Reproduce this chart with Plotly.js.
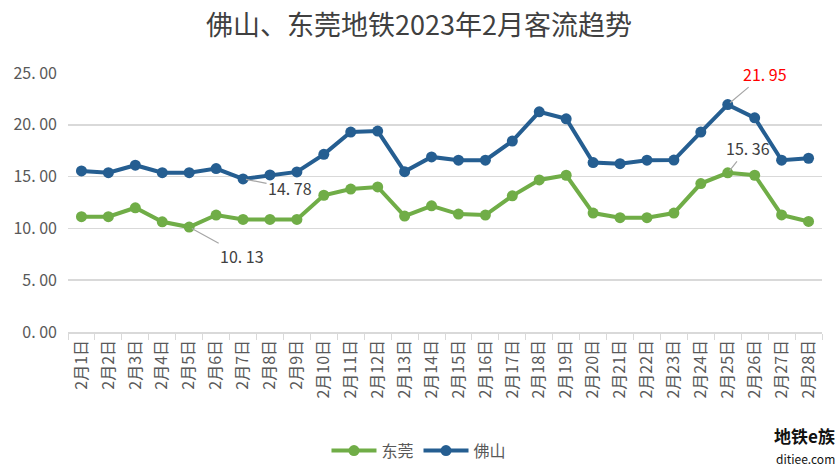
<!DOCTYPE html>
<html><head><meta charset="utf-8">
<script src="https://cdn.plot.ly/plotly-3.0.1.min.js"></script>
<style>html,body{margin:0;padding:0;background:#fff;}#chart{width:838px;height:470px;}</style>
</head><body><div id="chart"></div>
<script>
const days = ["2月1日","2月2日","2月3日","2月4日","2月5日","2月6日","2月7日","2月8日","2月9日","2月10日","2月11日","2月12日","2月13日","2月14日","2月15日","2月16日","2月17日","2月18日","2月19日","2月20日","2月21日","2月22日","2月23日","2月24日","2月25日","2月26日","2月27日","2月28日"];
const dongguan = [11.13,11.13,11.99,10.64,10.13,11.29,10.87,10.87,10.87,13.2,13.8,14.0,11.19,12.18,11.38,11.29,13.14,14.68,15.13,11.48,11.03,11.03,11.48,14.33,15.36,15.13,11.3,10.67];
const foshan = [15.55,15.38,16.1,15.38,15.38,15.77,14.78,15.16,15.45,17.15,19.3,19.4,15.48,16.9,16.58,16.58,18.43,21.25,20.58,16.35,16.25,16.58,16.6,19.3,21.95,20.67,16.58,16.77];
const yTickVals = [0,5,10,15,20,25];
const yTickText = ["0. 00","5. 00","10. 00","15. 00","20. 00","25. 00"];
const titleText = "佛山、东莞地铁2023年2月客流趋势";

const font = '"Noto Sans CJK SC", "Noto Sans", sans-serif';
const traces = [
  {x: days, y: dongguan, name: "东莞", type: "scatter", mode: "lines+markers",
   line: {color: "#70AD47", width: 4}, marker: {color: "#70AD47", size: 11}},
  {x: days, y: foshan, name: "佛山", type: "scatter", mode: "lines+markers",
   line: {color: "#255E91", width: 4}, marker: {color: "#255E91", size: 11}}
];
const ann = (x, y, text, ax, ay, color) => ({x, y, xref: "x", yref: "y", text, showarrow: true,
  arrowhead: 0, arrowwidth: 1.2, arrowcolor: "#a6a6a6", ax, ay, standoff: 3,
  font: {family: font, size: 16, color}});
const layout = {
  width: 838, height: 470,
  margin: {l: 68, r: 16, t: 73, b: 138, autoexpand: false},
  paper_bgcolor: "#fff", plot_bgcolor: "#fff",
  title: {text: titleText, x: 0.5, xanchor: "center", y: 0.945, yanchor: "middle",
    font: {family: font, size: 27, color: "#404040"}},
  showlegend: true,
  legend: {orientation: "h", x: 0.4655, xanchor: "center", y: -0.458, yanchor: "middle",
    font: {family: font, size: 16, color: "#595959"}, itemwidth: 45, tracegroupgap: 0},
  xaxis: {type: "category", range: [-0.5, 27.5], autorange: false, tickangle: -90, showgrid: false,
    showline: true, linecolor: "#d9d9d9", linewidth: 1.5,
    ticks: "outside", tickson: "boundaries", ticklen: 6, tickcolor: "#d9d9d9",
    tickfont: {family: font, size: 16, color: "#595959"}, fixedrange: true, automargin: false},
  yaxis: {range: [0, 25], autorange: false, tickvals: yTickVals, ticktext: yTickText, showgrid: true, gridcolor: "#d9d9d9", gridwidth: 1.5,
    zeroline: false, showline: false, ticks: "", ticklabelstandoff: 10,
    tickfont: {family: font, size: 16, color: "#595959"}, fixedrange: true, automargin: false},
  annotations: [
    ann(days[6], 14.78, "14. 78", 47, 9, "#404040"),
    ann(days[4], 10.13, "10. 13", 53, 29, "#404040"),
    ann(days[24], 21.95, "21. 95", 37, -31, "#FF0000"),
    ann(days[24], 15.36, "15. 36", 20, -25, "#404040"),
    {xref: "paper", yref: "paper", x: 1.02, y: -0.4, xanchor: "right", yanchor: "middle", showarrow: false,
     text: "<b>地铁e族</b>", font: {family: font, size: 17, color: "#111"}},
    {xref: "paper", yref: "paper", x: 1.02, y: -0.49, xanchor: "right", yanchor: "middle", showarrow: false,
     text: "ditiee.com", font: {family: font, size: 12, color: "#111"}}
  ]
};
Plotly.newPlot("chart", traces, layout, {displayModeBar: false, staticPlot: true});
</script></body></html>
